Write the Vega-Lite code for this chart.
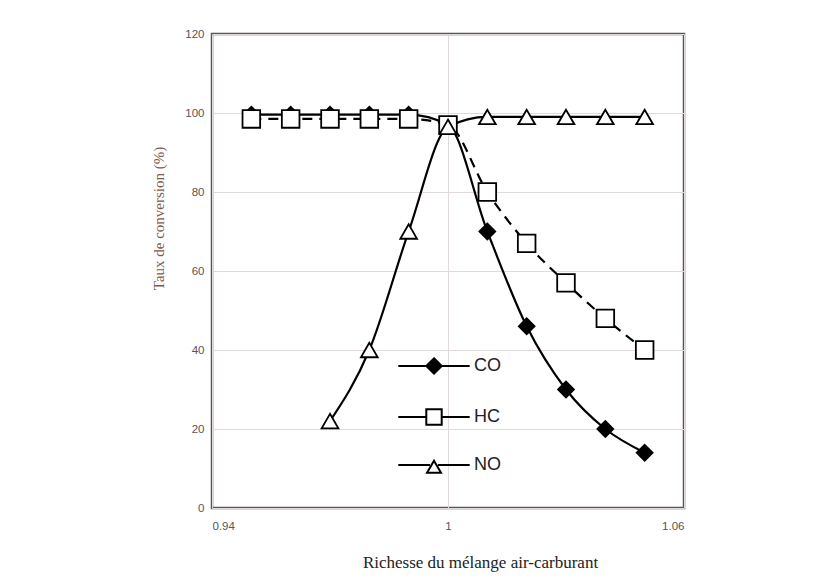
{
  "$schema": "https://vega.github.io/schema/vega-lite/v6.json",
  "width": 472,
  "height": 474,
  "autosize": "none",
  "padding": {"left": 212, "top": 34, "right": 141, "bottom": 80},
  "background": "white",
  "config": {
    "view": {"stroke": "#555", "strokeWidth": 2.5},
    "axis": {"labelFont": "Liberation Sans", "labelFontSize": 11.5, "labelColor": "#555", "gridColor": "#e2dada", "gridWidth": 1, "ticks": false, "domain": false}
  },
  "data": {
    "values": [
      {"r": 0.95, "taux": 99.6, "gaz": "CO"},
      {"r": 0.96, "taux": 99.6, "gaz": "CO"},
      {"r": 0.97, "taux": 99.6, "gaz": "CO"},
      {"r": 0.98, "taux": 99.6, "gaz": "CO"},
      {"r": 0.99, "taux": 99.6, "gaz": "CO"},
      {"r": 1.0, "taux": 97, "gaz": "CO"},
      {"r": 1.01, "taux": 70, "gaz": "CO"},
      {"r": 1.02, "taux": 46, "gaz": "CO"},
      {"r": 1.03, "taux": 30, "gaz": "CO"},
      {"r": 1.04, "taux": 20, "gaz": "CO"},
      {"r": 1.05, "taux": 14, "gaz": "CO"},
      {"r": 0.95, "taux": 98.5, "gaz": "HC"},
      {"r": 0.96, "taux": 98.5, "gaz": "HC"},
      {"r": 0.97, "taux": 98.5, "gaz": "HC"},
      {"r": 0.98, "taux": 98.5, "gaz": "HC"},
      {"r": 0.99, "taux": 98.5, "gaz": "HC"},
      {"r": 1.0, "taux": 97, "gaz": "HC"},
      {"r": 1.01, "taux": 80, "gaz": "HC"},
      {"r": 1.02, "taux": 67, "gaz": "HC"},
      {"r": 1.03, "taux": 57, "gaz": "HC"},
      {"r": 1.04, "taux": 48, "gaz": "HC"},
      {"r": 1.05, "taux": 40, "gaz": "HC"},
      {"r": 0.97, "taux": 22, "gaz": "NO"},
      {"r": 0.98, "taux": 40, "gaz": "NO"},
      {"r": 0.99, "taux": 70, "gaz": "NO"},
      {"r": 1.0, "taux": 96.5, "gaz": "NO"},
      {"r": 1.01, "taux": 99, "gaz": "NO"},
      {"r": 1.02, "taux": 99, "gaz": "NO"},
      {"r": 1.03, "taux": 99, "gaz": "NO"},
      {"r": 1.04, "taux": 99, "gaz": "NO"},
      {"r": 1.05, "taux": 99, "gaz": "NO"}
    ]
  },
  "encoding": {
    "x": {
      "field": "r", "type": "quantitative",
      "scale": {"domain": [0.94, 1.06], "nice": false, "zero": false},
      "axis": {
        "values": [0.94, 1, 1.06], "format": "~g", "labelPadding": 12,
        "title": "Richesse du mélange air-carburant",
        "titleFont": "Liberation Serif", "titleFontSize": 17, "titleFontWeight": "normal", "titleColor": "#222",
        "titleX": 268, "titleY": 54, "titleBaseline": "middle", "titleAnchor": "middle"
      }
    },
    "y": {
      "field": "taux", "type": "quantitative",
      "scale": {"domain": [0, 120], "nice": false},
      "axis": {
        "values": [0, 20, 40, 60, 80, 100, 120], "labelPadding": 8,
        "title": "Taux de conversion (%)",
        "titleFont": "Liberation Serif", "titleFontSize": 15, "titleFontWeight": "normal", "titleColor": "#7d5a50",
        "titleX": -54, "titleY": 184, "titleBaseline": "middle", "titleAngle": -90, "titleAnchor": "middle"
      }
    }
  },
  "layer": [
    {
      "transform": [{"filter": "datum.gaz !== 'HC'"}],
      "mark": {"type": "line", "interpolate": "monotone", "strokeWidth": 2.2},
      "encoding": {
        "color": {
          "field": "gaz", "type": "nominal",
          "scale": {"domain": ["CO", "HC", "NO"], "range": ["black", "black", "black"]},
          "legend": {
            "orient": "none", "legendX": 213, "legendY": 323, "title": null,
            "padding": 0, "symbolSize": 196, "symbolStrokeWidth": 2, "symbolStrokeColor": "black",
            "labelFont": "Liberation Sans", "labelFontSize": 18, "labelColor": "#222", "labelOffset": 31,
            "rowPadding": 27,
            "encode": {
              "symbols": {
                "update": {
                  "shape": {"signal": "datum.value === 'CO' ? 'M-5.1,0L5.1,0M0,-1.1L1.1,0L0,1.1L-1.1,0Z' : datum.value === 'HC' ? 'M-5.1,0L-1.1,0M1.1,0L5.1,0M-1.1,-1.1L1.1,-1.1L1.1,1.1L-1.1,1.1Z' : 'M-5.1,0L-0.58,0M0.58,0L5.1,0M0,-0.6L1,1.1L-1,1.1Z'"},
                  "fill": {"signal": "datum.value === 'CO' ? 'black' : 'white'"},
                  "stroke": {"value": "black"},
                  "strokeWidth": {"value": 2},
                  "opacity": {"value": 1}
                }
              }
            }
          }
        }
      }
    },
    {
      "transform": [{"filter": "datum.gaz === 'HC'"}],
      "mark": {"type": "line", "interpolate": "monotone", "strokeWidth": 2.2, "color": "black", "strokeDash": [10, 7]},
      "encoding": {}
    },
    {
      "transform": [{"filter": "datum.gaz === 'CO'"}],
      "mark": {"type": "point", "shape": "diamond", "filled": true, "fill": "black", "stroke": "black", "strokeWidth": 1.8, "opacity": 1, "size": 250},
      "encoding": {}
    },
    {
      "transform": [{"filter": "datum.gaz === 'HC'"}],
      "mark": {"type": "point", "shape": "square", "filled": true, "fill": "white", "stroke": "black", "strokeWidth": 1.8, "opacity": 1, "size": 310},
      "encoding": {}
    },
    {
      "transform": [{"filter": "datum.gaz === 'NO'"}],
      "mark": {"type": "point", "shape": "triangle-up", "filled": true, "fill": "white", "stroke": "black", "strokeWidth": 1.8, "opacity": 1, "size": 280},
      "encoding": {}
    }
  ]
}
